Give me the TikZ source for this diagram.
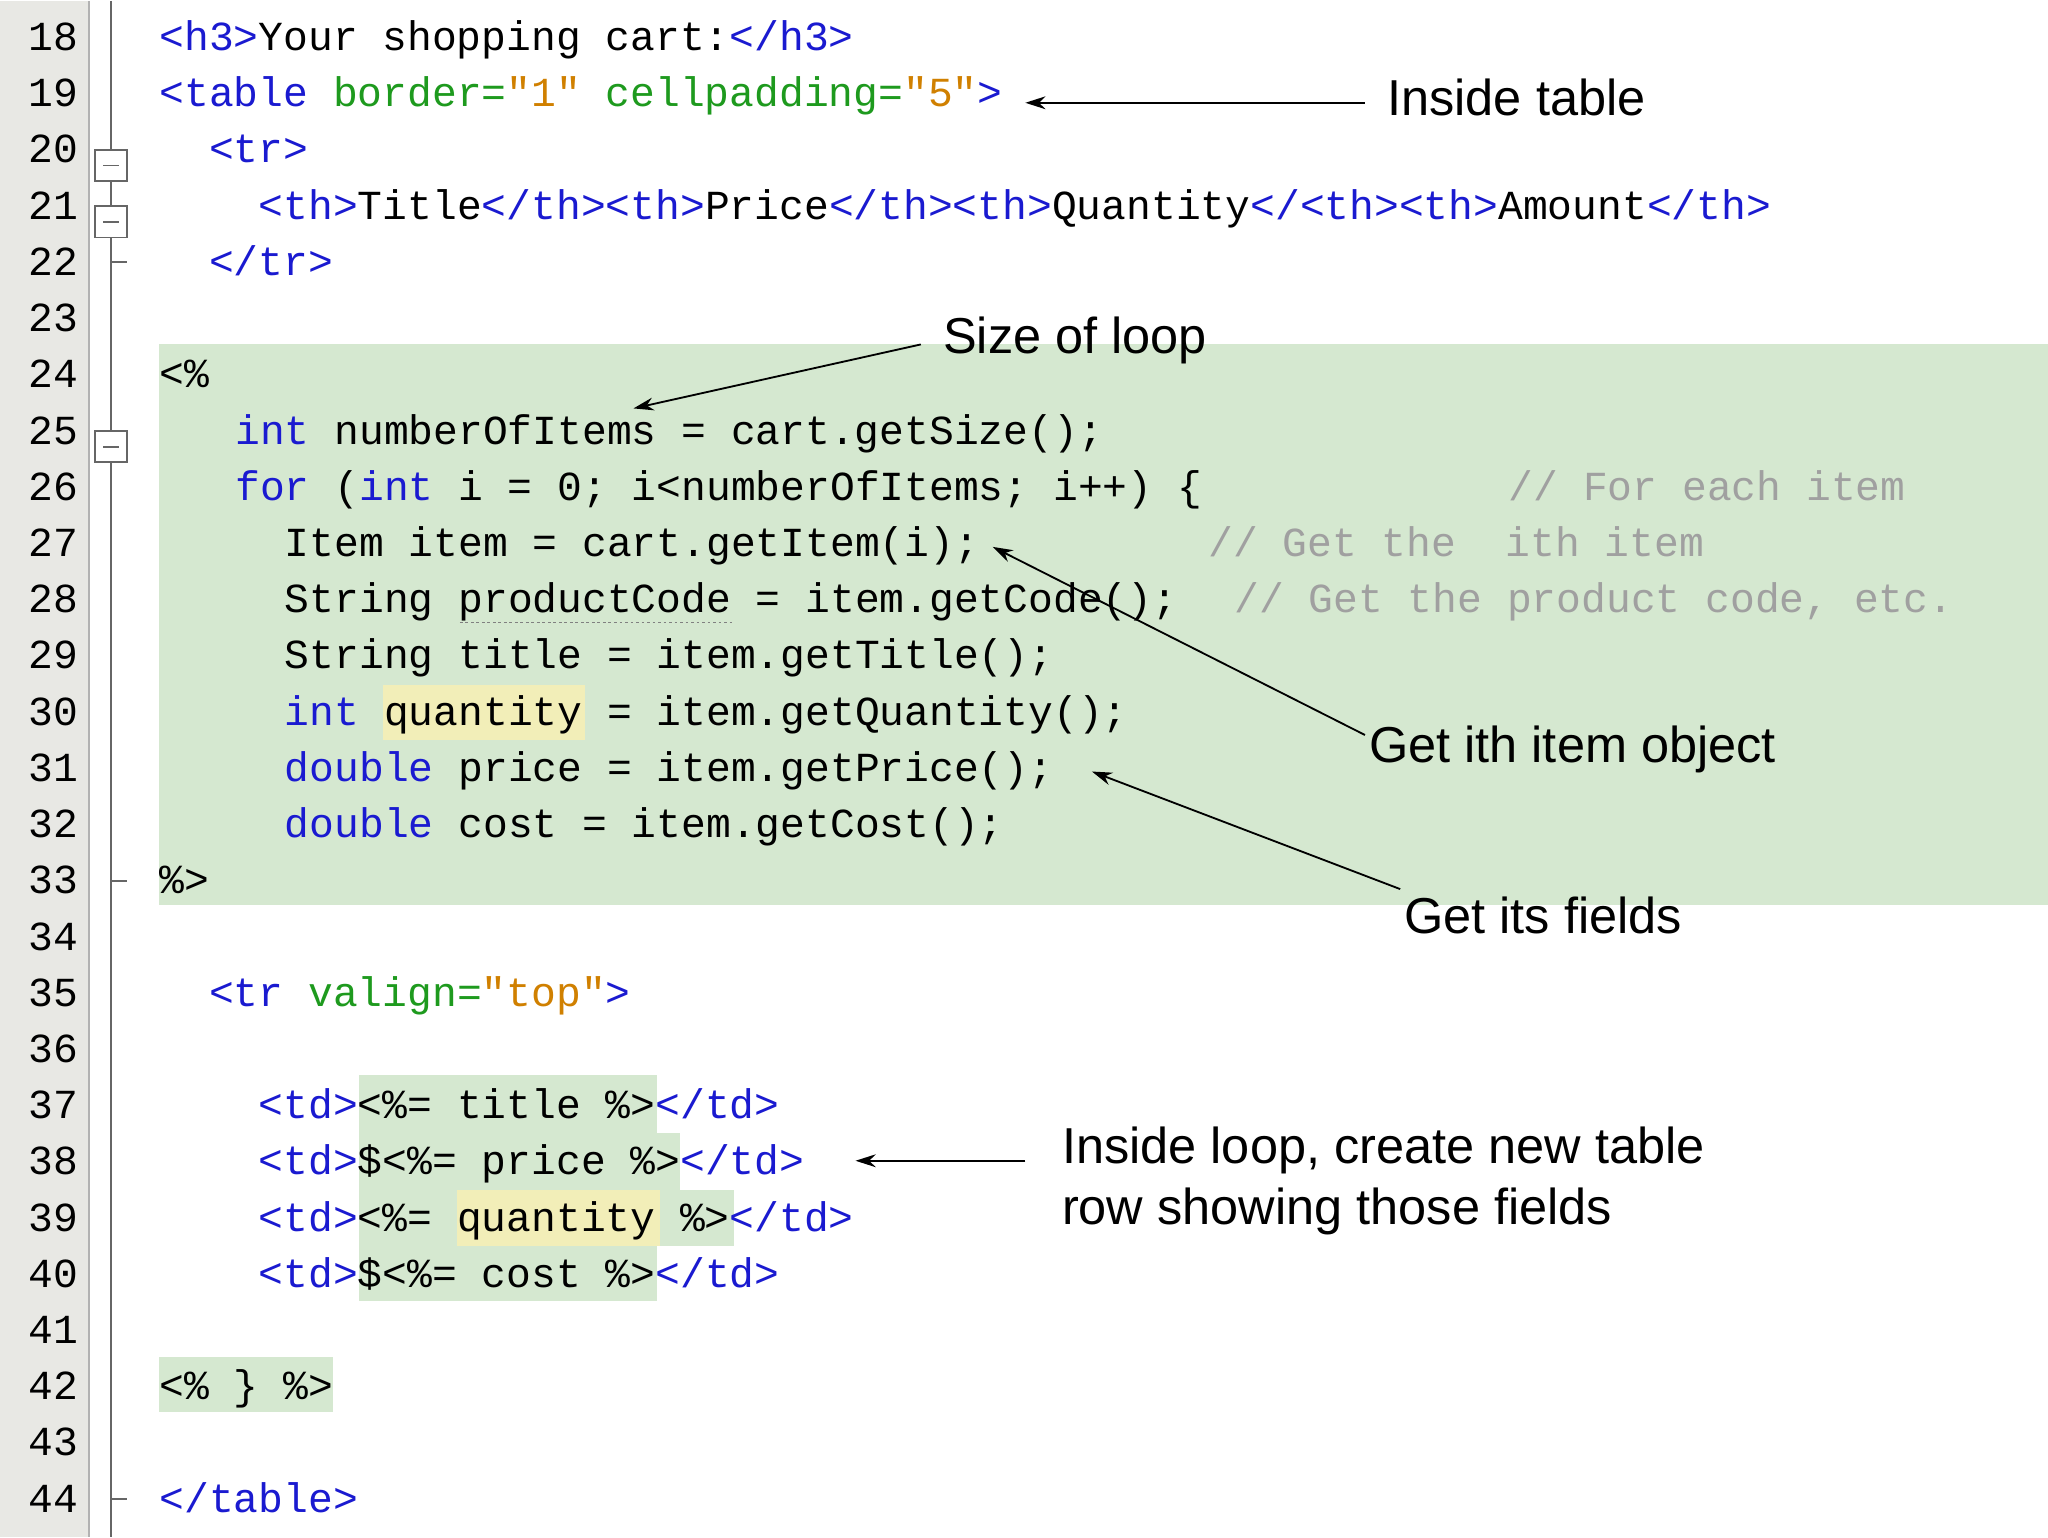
\documentclass[tikz,border=0pt]{standalone}
\usepackage{fontspec}
\setmainfont{Liberation Sans}
\newfontfamily\codefont{Liberation Mono}
\usetikzlibrary{arrows.meta}
\definecolor{tagc}{HTML}{1A1AD0}
\definecolor{attc}{HTML}{1E9A1E}
\definecolor{strc}{HTML}{D08000}
\definecolor{cmtc}{HTML}{A0A0A0}
\definecolor{hlg}{HTML}{D5E8D0}
\definecolor{hly}{HTML}{F2EEB8}
\definecolor{gutc}{HTML}{E8E8E4}
\newcommand{\T}[1]{\textcolor{tagc}{#1}}
\newcommand{\A}[1]{\textcolor{attc}{#1}}
\newcommand{\Sx}[1]{\textcolor{strc}{#1}}
\newcommand{\Cm}[1]{\textcolor{cmtc}{#1}}
\tikzset{code/.style={anchor=base west,inner sep=0pt,font=\codefont\fontsize{45}{45}\selectfont},
 lnum/.style={anchor=base east,inner sep=0pt,font=\codefont\fontsize{45}{45}\selectfont},
 lab/.style={anchor=base west,inner sep=0pt,font=\fontsize{55}{66}\selectfont},
 arr/.style={-{Stealth[length=22pt,width=14pt]},line width=2pt},
 fold/.style={draw=gray!80!black,line width=2pt,fill=white}}
\begin{document}
\begin{tikzpicture}[x=0.05cm,y=-0.05cm]
\fill[white] (0,0) rectangle (1568,1176);
\fill[gutc] (0,0) rectangle (68,1176);
\draw[gray!60,line width=2pt] (68,0) -- (68,1176);
\draw[gray!80!black,line width=2pt] (85,0) -- (85,1176);
% highlights
\fill[hlg] (122,263) rectangle (1568,692);
\fill[hlg] (275,822) rectangle (503,867);
\fill[hlg] (275,867) rectangle (521,910);
\fill[hlg] (275,910) rectangle (562,953);
\fill[hlg] (275,953) rectangle (503,995);
\fill[hlg] (122,1038) rectangle (255,1080);
\fill[hly] (293,524) rectangle (448,566);
\fill[hly] (350,910) rectangle (505,953);
% line numbers and text
\foreach \n [count=\i from 0] in {18,...,44}
  \node[lnum] at (60,{38+\i*43.04}) {\n};
\foreach \l in {19,20,24}
  \draw[fold] (73,{71+(\l-18)*43.04}) rectangle (97,{95+(\l-18)*43.04}) (79,{83+(\l-18)*43.04}) -- (91,{83+(\l-18)*43.04});
\foreach \l in {22,33,44}
  \draw[gray!80!black,line width=2pt] (85,{28+(\l-18)*43.04}) -- (97,{28+(\l-18)*43.04});
\def\Y#1{{38+(#1-18)*43.04}}
\node[code] (l18) at (122,\Y{18}) {\T{<h3>}Your shopping cart:\T{</h3>}};
\node[code] (l19) at (122,\Y{19}) {\T{<table} \A{border=}\Sx{"1"} \A{cellpadding=}\Sx{"5"}\T{>}};
\node[code] at (160,\Y{20}) {\T{<tr>}};
\node[code] at (198,\Y{21}) {\T{<th>}Title\T{</th><th>}Price\T{</th><th>}Quantity\T{</<th><th>}Amount\T{</th>}};
\node[code] at (160,\Y{22}) {\T{</tr>}};
\node[code] at (122,\Y{24}) {<\%};
\node[code] at (180,\Y{25}) {\T{int} numberOfItems = cart.getSize();};
\node[code] at (180,\Y{26}) {\T{for} (\T{int} i = 0; i<numberOfItems; i++) \{};
\node[code] at (1155,\Y{26}) {\Cm{// For each item}};
\node[code] at (218,\Y{27}) {Item item = cart.getItem(i);};
\node[code] at (925,\Y{27}) {\Cm{// Get the~~ith item}};
\node[code] at (218,\Y{28}) {String productCode = item.getCode();};
\node[code] at (945,\Y{28}) {\Cm{// Get the product code, etc.}};
\draw[gray,dashed,line width=1.5pt] (352,476) -- (562,476);
\node[code] at (218,\Y{29}) {String title = item.getTitle();};
\node[code] at (218,\Y{30}) {\T{int} quantity = item.getQuantity();};
\node[code] at (218,\Y{31}) {\T{double} price = item.getPrice();};
\node[code] at (218,\Y{32}) {\T{double} cost = item.getCost();};
\node[code] at (122,\Y{33}) {\%>};
\node[code] at (160,\Y{35}) {\T{<tr} \A{valign=}\Sx{"top"}\T{>}};
\node[code] at (198,\Y{37}) {\T{<td>}<\%= title \%>\T{</td>}};
\node[code] at (198,\Y{38}) {\T{<td>}\$<\%= price \%>\T{</td>}};
\node[code] at (198,\Y{39}) {\T{<td>}<\%= quantity \%>\T{</td>}};
\node[code] at (198,\Y{40}) {\T{<td>}\$<\%= cost \%>\T{</td>}};
\node[code] at (122,\Y{42}) {<\% \} \%>};
\node[code] at (122,\Y{44}) {\T{</table>}};
% labels
\node[lab] (L1) at (1062,88) {Inside table};
\node[lab] (L2) at (722,270) {Size of loop};
\node[lab] (L3) at (1048,583) {Get ith item object};
\node[lab] (L4) at (1075,714) {Get its fields};
\node[lab,align=left,anchor=north west] (L5) at (813,862) {Inside loop, create new table\\row showing those fields};
\coordinate (t1) at (785,78); \coordinate (s1) at (1045,78);
\coordinate (t2) at (485,312); \coordinate (s2) at (705,263);
\coordinate (t3) at (760,418); \coordinate (s3) at (1045,562);
\coordinate (t4) at (836,590); \coordinate (s4) at (1072,680);
\coordinate (t5) at (655,888); \coordinate (s5) at (785,888);
\foreach \k in {1,...,5} \draw[arr] (s\k) -- (t\k);
\end{tikzpicture}
\end{document}
